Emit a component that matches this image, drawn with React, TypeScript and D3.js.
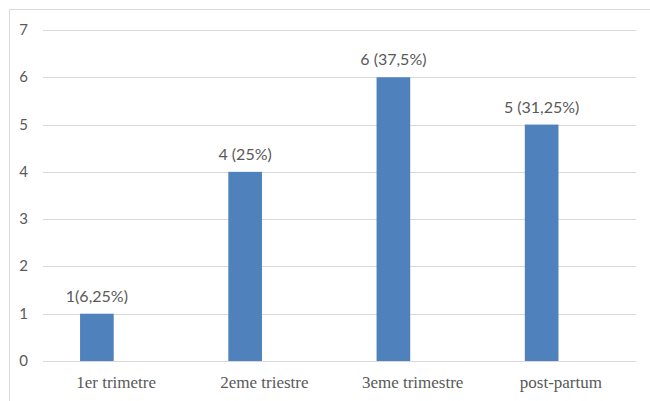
import React from "react";
import * as d3 from "d3";

const categories = ["1er trimetre", "2eme triestre", "3eme trimestre", "post-partum"];
const values = [1, 4, 6, 5];
const dataLabels = ["1(6,25%)", "4 (25%)", "6 (37,5%)", "5 (31,25%)"];
const yTicks = [0, 1, 2, 3, 4, 5, 6, 7];

const W = 650;
const H = 401;

export default function App() {
  const x = d3.scaleBand<string>().domain(categories).range([43, 636]).padding(0);
  const y = d3.scaleLinear().domain([0, 7]).range([361, 30]);
  const bw = x.bandwidth();
  const barOffset = bw * 0.25;
  const barW = bw * 0.227;
  const textColor = "#595959";
  return (
    <div style={{ position: "absolute", left: 0, top: 0 }}>
      <svg width={W} height={H} style={{ display: "block" }}>
        <rect x={0} y={0} width={W} height={H} fill="#ffffff" />
        <rect x={9.5} y={9.5} width={W + 10} height={H + 10} fill="none" stroke="#d9d9d9" strokeWidth={1} />
        {yTicks.map((t) => (
          <g key={t}>
            <line x1={43} x2={636} y1={Math.round(y(t)) + 0.5} y2={Math.round(y(t)) + 0.5} stroke="#d9d9d9" strokeWidth={1} />
            <text x={28} y={y(t) + 5} textAnchor="end" fontFamily="Lato, 'Open Sans', sans-serif" fontSize={15} fill={textColor}>
              {t}
            </text>
          </g>
        ))}
        {categories.map((c, i) => (
          <g key={c}>
            <rect x={(x(c) as number) + barOffset} y={y(values[i])} width={barW} height={y(0) - y(values[i])} fill="#4f81bd" />
            <text
              x={(x(c) as number) + barOffset + barW / 2}
              y={y(values[i]) - 12}
              textAnchor="middle"
              fontFamily="Lato, 'Open Sans', sans-serif"
              fontSize={16}
              fill={textColor}
            >
              {dataLabels[i]}
            </text>
            <text
              x={(x(c) as number) + bw / 2 - 1}
              y={388}
              textAnchor="middle"
              fontFamily="'Liberation Serif', serif"
              fontSize={17}
              fill={textColor}
            >
              {c}
            </text>
          </g>
        ))}
      </svg>
    </div>
  );
}
